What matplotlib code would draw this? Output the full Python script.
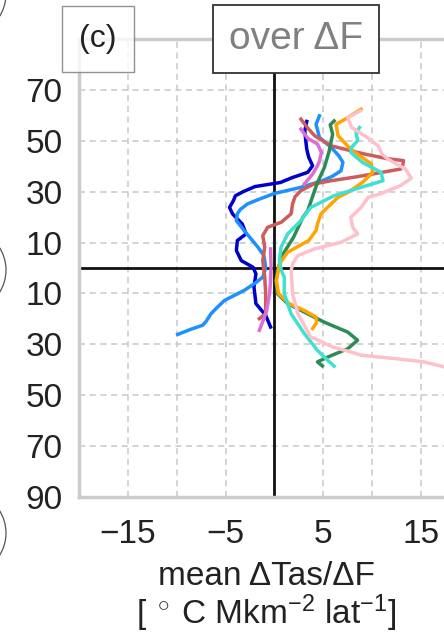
import numpy as np
import matplotlib
matplotlib.use("Agg")
import matplotlib.pyplot as plt
from matplotlib.patches import Arc

plt.rcParams['font.family'] = ['Liberation Sans', 'DejaVu Sans']
plt.rcParams['mathtext.fontset'] = 'custom'
plt.rcParams['mathtext.rm'] = 'Liberation Sans'
plt.rcParams['mathtext.it'] = 'Liberation Sans'

nan = np.nan

# latitude (deg) and mean dTas/dF for each model line
lat_mediumblue = [57.6, 53.9, 50, 46.7, 43.5, 40.2, 37.6, 35.5, 33.6, 32, 30, 28.4, 26.5, 23.8,
                  21.3, 17.3, 13.4, 10.8, 6.9, 2.9, 0.3, -2.3, -7.5, -14, -18.6, -23.2]
val_mediumblue = [3.3, 3.1, 3.2, 3.3, 3.5, 3.9, 3.4, 1.8, 0.6, -2.0, -3.2, -4.0, -4.2, -4.6,
                  -4.3, -3.3, -2.9, -3.8, -3.9, -3.4, -2.2, -1.9, -2.1, -1.9, -0.9, -0.4]

lat_dodgerblue = [59.8, 56.5, 51.3, 47.4, 44, 41.5, 38.2, 36, 34.3, 31.7, 29.3, 27, 25.2, 23, 21.3,
                  18.6, 14.7, 11, 8.2, 5, 2.9, 0, -3.6, -6, -8.8, -12.7, -16, -18, -21, -22.5, -24, -26.1]
val_dodgerblue = [4.6, 4.25, 4.6, 5.8, 6.6, 7.0, 6.8, 5.9, 4.9, 2.7, 0.0, -1.6, -2.75, -3.5, -3.8,
                  -3.9, -3.1, -2.3, -1.7, -1.1, -1.0, -0.9, -1.2, -2.0, -3.1, -5.1, -6.0, -6.5, -7.0, -7.35, -8.5, -9.9]

lat_indianred = [58.5, 55, 52, 48, 44.8, 43, 42.2, 40, 38.9, 37.6, 35.9, 34.3, 33, 30.4, 28, 25.2,
                 21.3, 18, 16, 12.7, 8.2, 2.9, -3.6, -10, -18, -19.9]
val_indianred = [2.7, 3.4, 4.1, 5.8, 9.2, 11.5, 13.2, 13.1, 12.9, 11.0, 8.5, 5.8, 4.0, 2.7, 2.1, 1.85,
                 1.7, 0.7, -0.7, -1.2, -1.0, -1.2, -1.0, -0.9, -0.9, -1.55]

lat_orchid = [54.6, 51, 48.7, 45.4, 42, 40.2, 36.9, 33, nan, 7.5, 0, -5, -10, -16.7, -20, -24.5]
val_orchid = [2.7, 3.4, 4.4, 4.8, 4.6, 4.4, 3.9, 3.05, nan, -0.4, -0.35, -0.4, -0.5, -0.8, -1.1, -1.55]

lat_seagreen = [57.8, 56.3, 52.6, 46, 39.5, 33.6, 30.4, 22.5, 19.9, 12.1, 5.6, 0.3, -4.9, -10.1, -14,
                -18, -21.3, -25.2, -28.4, -31.7, -35, -36.9, -38.5]
val_seagreen = [6.1, 5.7, 5.95, 5.6, 5.1, 4.4, 4.1, 3.4, 2.9, 1.95, 0.9, 0.4, 0.15, 0.3, 1.35,
                3.4, 5.1, 7.5, 8.5, 7.5, 5.45, 4.4, 4.9]

lat_orange = [62.4, 59.1, 56.5, 52, 46.7, 40.9, 37.6, 33.6, 29.7, 27.8, 21.3, 17.3, 14.7, 10.8, 6.2,
              1.6, -5, -10, -14, -16.7, -19.3, -21.5, -23.8]
val_orange = [8.85, 7.5, 6.3, 6.5, 7.8, 9.9, 10.05, 9.0, 7.5, 6.5, 4.75, 4.4, 4.25, 3.5, 1.35,
              0.5, 0.2, 0.4, 1.5, 3.05, 4.25, 4.3, 3.9]

lat_turquoise = [55.2, 53.3, 50, 47.5, 45.4, 41.5, 37.6, 34.3, 31.7, 28.4, 23.8, 18.6, 13.4, 8.2,
                 2.9, -1, -3.6, -10.1, -18, -25.8, -32.4, -36.3, -38.6]
val_turquoise = [8.7, 8.35, 8.5, 7.9, 7.8, 9.0, 10.9, 11.1, 8.85, 6.1, 3.7, 2.7, 1.35, 0.67,
                 0.5, 0.7, 1.0, 1.0, 1.7, 3.05, 4.4, 5.45, 6.1]

lat_pink = [61.8, 59.1, 55.2, 51.3, 48, 44.8, 42.8, 38.9, 35.3, 32.4, 29.1, 27.8, 23.8, 19.9, 16,
            13.4, 10.1, 7.5, 4.9, 2, -1, -10.1, -18, -27.1, -31.1, -33, -34.3, -35.6, -36.9, -38.9, -39.5]
val_pink = [8.8, 7.5, 7.9, 9.5, 10.6, 11.0, 11.6, 13.4, 14.0, 12.9, 10.8, 9.6, 8.85, 7.8, 8.0,
            8.5, 6.8, 4.1, 2.4, 1.9, 1.7, 1.85, 2.4, 3.7, 6.0, 7.8, 8.9, 12.3, 15.3, 17.4, 18.5]

series = [
    (lat_mediumblue, val_mediumblue, 'mediumblue'),
    (lat_dodgerblue, val_dodgerblue, 'dodgerblue'),
    (lat_indianred, val_indianred, 'indianred'),
    (lat_orchid, val_orchid, 'orchid'),
    (lat_seagreen, val_seagreen, 'seagreen'),
    (lat_orange, val_orange, 'orange'),
    (lat_turquoise, val_turquoise, 'turquoise'),
    (lat_pink, val_pink, 'pink'),
]

yticks = [-90, -70, -50, -30, -10, 10, 30, 50, 70]
xticks = [-15, -10, -5, 0, 5, 10, 15, 20]
xticklabels = ['\u221215', '', '\u22125', '', '5', '', '15', '']

W, H = 444, 635
fig = plt.figure(figsize=(W / 100, H / 100), dpi=100)
# axes runs off the right edge of the picture (panel is cropped)
ax = fig.add_axes([79 / W, 1 - 497 / H, 434 / W, (497 - 39) / H])

for lat, val, c in series:
    ax.plot(val, lat, color=c, lw=2.5, zorder=3)

ax.axhline(0, color='#111111', lw=2.0, zorder=2)
ax.axvline(0, color='#111111', lw=2.0, zorder=2)

ax.set_xlim(-20, 24.4)
ax.set_ylim(-90, 90)
ax.set_yticks(yticks)
ax.set_yticklabels([str(abs(t)) for t in yticks])
ax.set_xticks(xticks)
ax.set_xticklabels(xticklabels)
ax.tick_params(length=0, labelsize=24, colors='#222222')
ax.tick_params(axis='x', pad=16)
ax.tick_params(axis='y', pad=12)
ax.grid(True, color='#c8c8c8', ls=(0, (4, 3)), lw=1.1, zorder=0)
for s in ax.spines.values():
    s.set_color('#cccccc')
    s.set_linewidth(2.5)

ax.set_xlabel('mean \u0394Tas/\u0394F\n[$\\;^\\circ\\;$C Mkm$^{-2}$ lat$^{-1}$]',
              fontsize=24, color='#222222', linespacing=1.0)
ax.xaxis.set_label_coords(0.431, -0.14)

ax.text(0.5, 1.0, 'over \u0394F', transform=ax.transAxes, ha='center', va='center',
        fontsize=28, color='#808080', zorder=10,
        bbox=dict(boxstyle='square,pad=0.42', facecolor='white', edgecolor='#333333', lw=1.3))

fig.text(98 / W, 1 - 39 / H, '(c)', ha='center', va='center', fontsize=23, color='#222222',
         bbox=dict(boxstyle='square,pad=0.55', facecolor='white', alpha=0.8,
                   edgecolor='#777777', lw=1.0))

# bits of neighbouring panels cut at the left edge
for cy in [-6, 270, 533]:
    fig.add_artist(Arc((-36 / W, 1 - cy / H), 84 / W, 84 / H, theta1=-60, theta2=60,
                       transform=fig.transFigure, color='#555555', lw=0.9))

fig.savefig('out.png', dpi=100)
